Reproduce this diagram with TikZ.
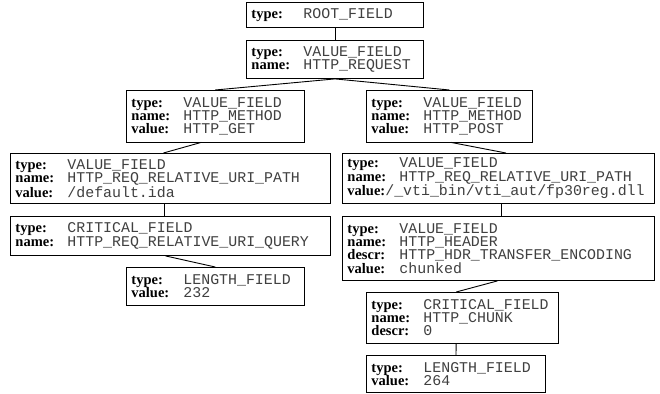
\documentclass[tikz,border=0pt]{standalone}
\usepackage{fontspec}
\setmainfont{Liberation Serif}
\setmonofont{Liberation Mono}
\newcommand{\lb}[1]{\makebox[52pt][l]{\bfseries #1}}
\newcommand{\vl}[1]{{\fontsize{14.9}{13.3}\selectfont\ttfamily\color{black!75}#1}}
\tikzset{
  fbox/.style n args={2}{draw, line width=0.9pt, anchor=north west,
    inner xsep=5pt, inner ysep=0pt, align=left, text width=#1,
    minimum height=#2, font=\fontsize{14.5}{13.3}\selectfont},
  conn/.style={line width=0.9pt},
}
\begin{document}
\begin{tikzpicture}[x=1pt,y=1pt]
\fill[white] (0,0) rectangle (660,-393);
\useasboundingbox (0,0) rectangle (660,-393);

\node[fbox={167pt}{24.5pt}] (root) at (246,-2.5) {\lb{type:}\vl{ROOT\_FIELD}};
\node[fbox={167pt}{37.5pt}] (req) at (246,-40.5) {\lb{type:}\vl{VALUE\_FIELD}\\\lb{name:}\vl{HTTP\_REQUEST}};
\node[fbox={167.5pt}{51.5pt}] (get) at (126,-90) {\lb{type:}\vl{VALUE\_FIELD}\\\lb{name:}\vl{HTTP\_METHOD}\\\lb{value:}\vl{HTTP\_GET}};
\node[fbox={156pt}{51.5pt}] (post) at (366,-90) {\lb{type:}\vl{VALUE\_FIELD}\\\lb{name:}\vl{HTTP\_METHOD}\\\lb{value:}\vl{HTTP\_POST}};
\node[fbox={310pt}{50pt}] (lpath) at (10,-153) {\lb{type:}\vl{VALUE\_FIELD}\\\lb{name:}\vl{HTTP\_REQ\_RELATIVE\_URI\_PATH}\\\lb{value:}\vl{/default.ida}};
\node[fbox={302pt}{50pt}] (rpath) at (342,-153) {\lb{type:}\vl{VALUE\_FIELD}\\\lb{name:}\vl{HTTP\_REQ\_RELATIVE\_URI\_PATH}\\\textbf{value:}\vl{/\_vti\_bin/vti\_aut/fp30reg.dll}};
\node[fbox={310pt}{39pt}] (query) at (10,-216) {\lb{type:}\vl{CRITICAL\_FIELD}\\\lb{name:}\vl{HTTP\_REQ\_RELATIVE\_URI\_QUERY}};
\node[fbox={302pt}{64pt}] (header) at (342,-216) {\lb{type:}\vl{VALUE\_FIELD}\\\lb{name:}\vl{HTTP\_HEADER}\\\lb{descr:}\vl{HTTP\_HDR\_TRANSFER\_ENCODING}\\\lb{value:}\vl{chunked}};
\node[fbox={167.5pt}{38pt}] (len232) at (126,-267) {\lb{type:}\vl{LENGTH\_FIELD}\\\lb{value:}\vl{232}};
\node[fbox={181.5pt}{50.5pt}] (chunk) at (366,-292) {\lb{type:}\vl{CRITICAL\_FIELD}\\\lb{name:}\vl{HTTP\_CHUNK}\\\lb{descr:}\vl{0}};
\node[fbox={169pt}{37pt}] (len264) at (366,-355) {\lb{type:}\vl{LENGTH\_FIELD}\\\lb{value:}\vl{264}};

\draw[conn] (root.south) -- (req.north);
\draw[conn] (req.south) -- (get.north);
\draw[conn] (req.south) -- (post.north);
\draw[conn] ([xshift=-14pt]get.south) -- ([xshift=-7pt]lpath.north);
\draw[conn] ([xshift=1.5pt]post.south) -- ([xshift=7.5pt]rpath.north);
\draw[conn] ([xshift=-6pt]lpath.south) -- ([xshift=-6pt]query.north);
\draw[conn] ([xshift=3.3pt]rpath.south) -- ([xshift=3.3pt]header.north);
\draw[conn] ([xshift=-5pt]query.south) -- (len232.north);
\draw[conn] ([xshift=-1pt]header.south) -- ([xshift=-6pt]chunk.north);
\draw[conn] ([xshift=-6pt]chunk.south) -- (len264.north);
\end{tikzpicture}
\end{document}
